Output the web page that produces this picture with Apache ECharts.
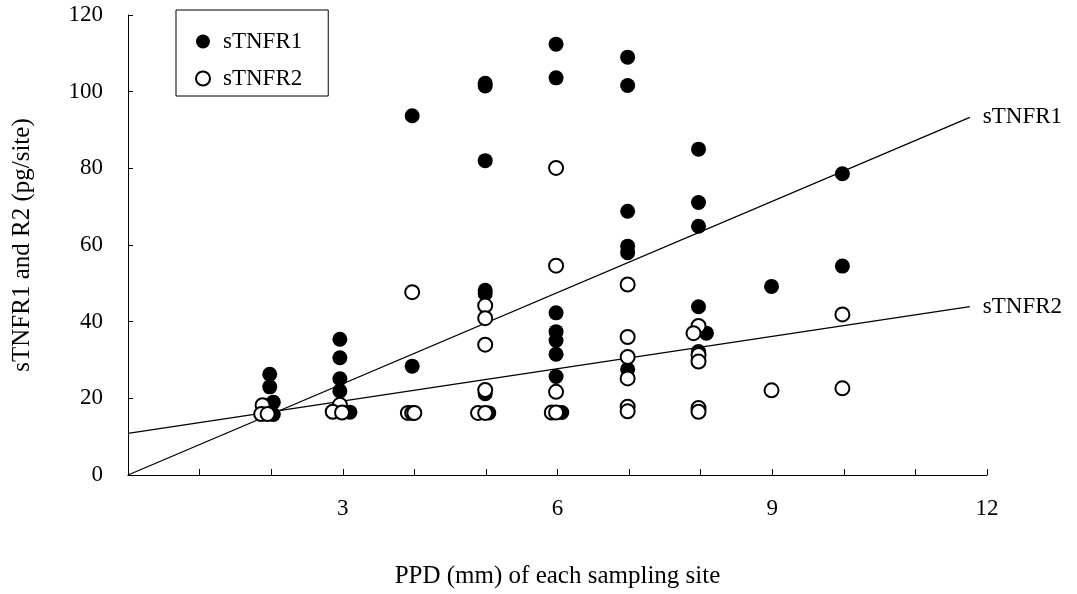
<!DOCTYPE html>
<html>
<head>
<meta charset="utf-8">
<script src="https://cdn.jsdelivr.net/npm/echarts@6/dist/echarts.min.js"></script>
<style>html,body{margin:0;padding:0;background:#fff}#c{width:1077px;height:594px}</style>
</head>
<body>
<div id="c"></div>
<script>
// Data: [PPD (mm), concentration (pg/site)]
var sTNFR1 = [
  [1.98,26.3],[1.98,23.0],[2.03,19.0],[2.03,15.8],
  [2.96,35.4],[2.96,30.6],[2.96,25.1],[2.96,21.9],[3.10,16.4],
  [3.97,93.7],[3.97,28.4],
  [4.99,102.2],[4.99,101.5],[4.99,82.0],[4.99,48.2],[4.99,47.3],[4.99,21.2],[5.04,16.2],
  [5.98,112.4],[5.98,103.6],[5.98,42.3],[5.98,37.4],[5.98,35.1],[5.98,31.5],[5.98,25.7],[6.06,16.3],
  [6.98,109.0],[6.98,101.6],[6.98,68.8],[6.98,59.7],[6.98,58.0],[6.98,27.6],
  [7.97,85.0],[7.97,71.1],[7.97,64.9],[7.97,43.9],[8.08,37.0],[7.97,32.2],
  [8.99,49.2],
  [9.98,78.6],[9.98,54.5]
];
var sTNFR2 = [
  [1.88,18.2],[1.86,15.9],[1.95,15.9],
  [2.96,18.3],[2.86,16.5],[2.99,16.3],
  [3.97,47.7],[3.91,16.2],[3.97,16.2],[4.00,16.2],
  [4.99,44.2],[4.99,40.9],[4.99,34.0],[4.99,22.2],[4.89,16.2],[4.99,16.2],
  [5.98,80.1],[5.98,54.6],[5.98,21.7],[5.92,16.3],[5.98,16.3],
  [6.98,49.7],[6.98,36.0],[6.98,30.8],[6.98,25.2],[6.98,17.8],[6.98,16.6],
  [7.97,38.9],[7.90,37.0],[7.97,31.3],[7.97,29.6],[7.97,17.5],[7.97,16.5],
  [8.99,22.1],
  [9.98,41.9],[9.98,22.6]
];
// Regression lines (end points)
var fit1 = [[0,0],[11.76,93.3]];
var fit2 = [[0,10.85],[11.76,43.9]];
var xTickLabels = [3,6,9,12];
var yTicks = [0,20,40,60,80,100,120];

var FONT = 'Liberation Serif';
var chart = echarts.init(document.getElementById('c'));
chart.setOption({
  animation: false,
  backgroundColor: '#fff',
  textStyle: {fontFamily: FONT, color: '#000'},
  grid: {left: 128, right: 90, top: 15, bottom: 118},
  legend: {
    data: ['sTNFR1','sTNFR2'],
    orient: 'vertical',
    left: 176, top: 10,
    padding: [20, 26, 6, 19],
    itemGap: 14,
    itemWidth: 14, itemHeight: 14,
    borderColor: '#000', borderWidth: 1,
    textStyle: {fontFamily: FONT, fontSize: 23, color: '#000', padding: [0, 0, 0, 8]}
  },
  xAxis: {
    type: 'value', min: 0, max: 12, interval: 1,
    name: 'PPD (mm) of each sampling site',
    nameLocation: 'middle', nameGap: 89,
    nameTextStyle: {fontFamily: FONT, fontSize: 25, color: '#000'},
    axisLine: {show: true, lineStyle: {color: '#000', width: 1}},
    axisTick: {show: true, inside: true, length: 6, lineStyle: {color: '#000'}},
    axisLabel: {
      margin: 22, fontFamily: FONT, fontSize: 23, color: '#000',
      formatter: function (v) { return xTickLabels.indexOf(v) >= 0 ? String(v) : ''; }
    },
    splitLine: {show: false}
  },
  yAxis: {
    type: 'value', min: yTicks[0], max: yTicks[yTicks.length-1], interval: 20,
    name: 'sTNFR1 and R2 (pg/site)',
    nameLocation: 'middle', nameGap: 93, nameRotate: 90,
    nameTextStyle: {fontFamily: FONT, fontSize: 25, color: '#000'},
    axisLine: {show: true, lineStyle: {color: '#000', width: 1}},
    axisTick: {show: true, inside: true, length: 5, lineStyle: {color: '#000'}},
    axisLabel: {margin: 25, fontFamily: FONT, fontSize: 23, color: '#000'},
    splitLine: {show: false}
  },
  series: [
    {
      name: 'sTNFR1 line', type: 'line', data: fit1, symbol: 'none',
      lineStyle: {color: '#000', width: 1.3}, z: 1, silent: true,
      endLabel: {show: true, formatter: 'sTNFR1', distance: 13,
        fontFamily: FONT, fontSize: 23, color: '#000'}
    },
    {
      name: 'sTNFR2 line', type: 'line', data: fit2, symbol: 'none',
      lineStyle: {color: '#000', width: 1.3}, z: 1, silent: true,
      endLabel: {show: true, formatter: 'sTNFR2', distance: 13,
        fontFamily: FONT, fontSize: 23, color: '#000'}
    },
    {
      name: 'sTNFR1', type: 'scatter', data: sTNFR1, symbol: 'circle', symbolSize: 15,
      itemStyle: {color: '#000', opacity: 1}, z: 3
    },
    {
      name: 'sTNFR2', type: 'scatter', data: sTNFR2, symbol: 'circle', symbolSize: 14,
      itemStyle: {color: '#fff', borderColor: '#000', borderWidth: 2, opacity: 1}, z: 4
    }
  ]
});
</script>
</body>
</html>
